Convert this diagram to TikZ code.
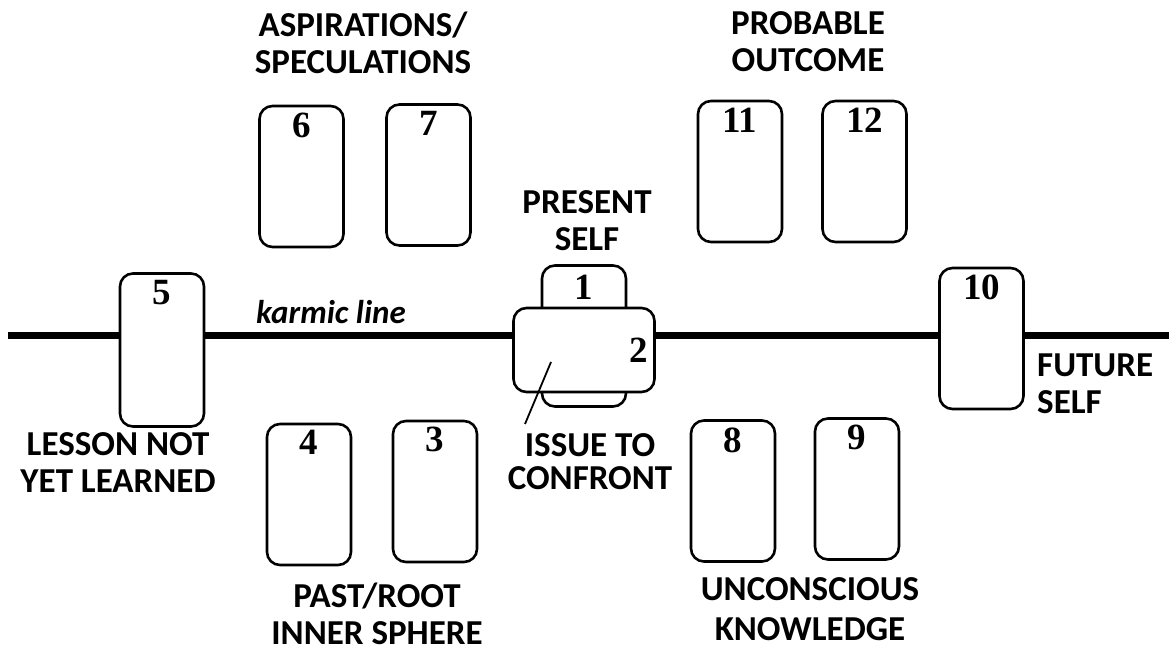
\documentclass[tikz,border=0pt]{standalone}
\usepackage{fontspec}
\setmainfont{Liberation Serif}
\newfontfamily\lblfont{Carlito}
\usetikzlibrary{positioning}

\tikzset{
	card/.style={draw, fill=white, rounded corners=13pt, line width=2.6pt, minimum width=84pt, minimum height=141pt, inner sep=0pt},
	cardflat/.style={card, minimum width=141pt, minimum height=84pt},
	num/.style={font=\fontsize{37}{37}\selectfont\bfseries, inner sep=0pt},
	lbl/.style={font=\lblfont\bfseries\fontsize{35}{37}\selectfont, align=center, inner sep=0pt},
	karma/.style={line width=7pt},
	pointer/.style={line width=1.8pt}
}

\begin{document}
\begin{tikzpicture}[x=1pt, y=-1pt]
		      \useasboundingbox (0,0) rectangle (1169,652);

		      % karmic line
		      \coordinate (kl) at (8,335);
		      \coordinate (kr) at (1169,335);
		      \draw[karma] (kl) -- (kr);

		      % cards
		      \node[card, minimum height=153pt] (c5) at (162,350) {};
		      \node[card] (c6) at (301.5,176.5) {};
		      \node[card] (c7) at (428.5,175) {};
		      \node[card] (c11) at (740,171.5) {};
		      \node[card] (c12) at (864.5,171.5) {};
		      \node[card] (c4) at (309,494.5) {};
		      \node[card] (c3) at (435,491.5) {};
		      \node[card] (c8) at (733,491) {};
		      \node[card] (c9) at (857,489) {};
		      \node[card] (c10) at (981.5,338.5) {};
		      \node[card] (c1) at (584,336) {};
		      \node[cardflat] (c2) at (584,350) {};

		      % card numbers
		      \node[num, below=8pt of c5.north] (n5) {5};
		      \node[num, below=8pt of c6.north] (n6) {6};
		      \node[num, below=8pt of c7.north] (n7) {7};
		      \node[num, below=8pt of c11.north] (n11) {11};
		      \node[num, below=8pt of c12.north] (n12) {12};
		      \node[num, below=7pt of c4.north] (n4) {4};
		      \node[num, below=7pt of c3.north] (n3) {3};
		      \node[num, below=8pt of c8.north] (n8) {8};
		      \node[num, below=8pt of c9.north] (n9) {9};
		      \node[num, below=8pt of c10.north] (n10) {10};
		      \node[num, below=11pt of c1.north] (n1) {1};
		      \node[num, left=8pt of c2.east] (n2) {2};

		      % labels
		      \node[lbl] (asp) at (363,43) {ASPIRATIONS/\\SPECULATIONS};
		      \node[lbl] (prob) at (808,42) {PROBABLE\\OUTCOME};
		      \node[lbl] (present) at (587,221) {PRESENT\\SELF};
		      \node[lbl, font=\lblfont\bfseries\itshape\fontsize{33}{35}\selectfont, anchor=base west] (karmic) at (256,323) {karmic line};
		      \node[lbl] (lesson) at (118,463) {LESSON NOT\\YET LEARNED};
		      \node[lbl, font=\lblfont\bfseries\fontsize{35}{33}\selectfont] (issue) at (590,462) {ISSUE TO\\CONFRONT};
		      \node[lbl, align=left, anchor=west] (future) at (1037,384) {FUTURE\\SELF};
		      \node[lbl] (past) at (377,614) {PAST/ROOT\\INNER SPHERE};
		      \node[lbl, font=\lblfont\bfseries\fontsize{35}{40}\selectfont] (uncon) at (810,609) {UNCONSCIOUS\\KNOWLEDGE};

		      % pointer to the crossing card
		      \coordinate (ptip) at (551,362);
		      \coordinate (ptail) at (525,424);
		      \draw[pointer] (ptip) -- (ptail);
\end{tikzpicture}
\end{document}
